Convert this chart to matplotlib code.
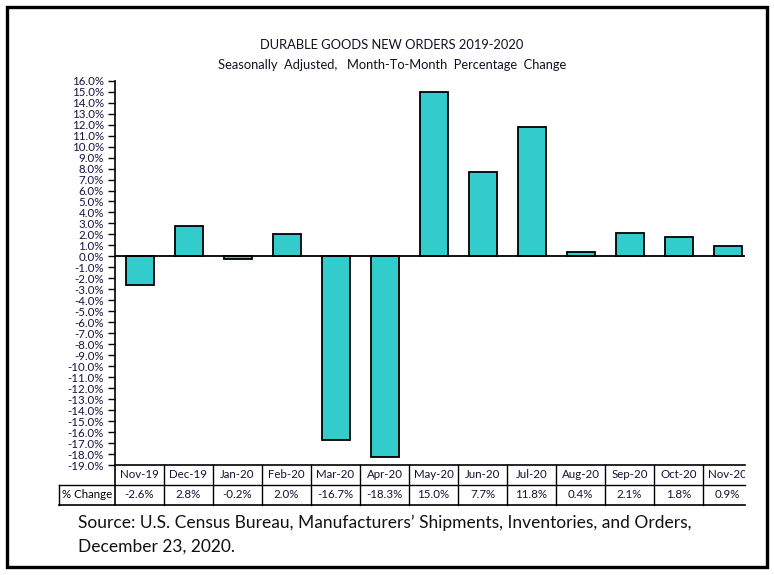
import matplotlib
matplotlib.use("Agg")
import matplotlib.pyplot as plt
from matplotlib.transforms import Bbox, blended_transform_factory
from matplotlib.patches import Rectangle
from matplotlib.lines import Line2D

months = ["Nov-19", "Dec-19", "Jan-20", "Feb-20", "Mar-20", "Apr-20", "May-20",
          "Jun-20", "Jul-20", "Aug-20", "Sep-20", "Oct-20", "Nov-20"]
pct_change = [-2.6, 2.8, -0.2, 2.0, -16.7, -18.3, 15.0, 7.7, 11.8, 0.4, 2.1, 1.8, 0.9]
y_ticks = list(range(-19, 17))

plt.rcParams['font.family'] = ['Lato', 'DejaVu Sans']
W, H = 774, 575
fig = plt.figure(figsize=(W / 100, H / 100), dpi=100)

def fx(px):
    return px / W

def fy(py):
    return 1 - py / H

ax_left, ax_right, ax_top, ax_bot = 115, 745, 80.7, 465
ax = fig.add_axes([fx(ax_left), fy(ax_bot), fx(ax_right - ax_left), fy(ax_top) - fy(ax_bot)])

col_w = 49.0
x_max = -0.5 + (ax_right - ax_left) / col_w
n = len(months)
x = list(range(n))
ax.bar(x, pct_change, width=28 / col_w, color="#33CCCC", edgecolor="black", linewidth=1.3, zorder=3)
ax.axhline(0, color="black", linewidth=1.3, zorder=4)
ax.set_xlim(-0.5, x_max)
ax.set_ylim(-19, 16)
ax.set_yticks(y_ticks)
ax.set_yticklabels([f"{v:.1f}%" for v in y_ticks], fontsize=8.3, color="#1a1040")
ax.tick_params(axis='y', direction='out', length=5, width=1, pad=3)
ax.set_xticks([])
for s in ["top", "right"]:
    ax.spines[s].set_visible(False)
ax.spines["left"].set_linewidth(1.2)
ax.spines["bottom"].set_linewidth(1.2)

# titles
fig.text(fx(392), fy(45), "DURABLE GOODS NEW ORDERS 2019-2020", ha="center", va="center",
         fontsize=9.3, color="#111122")
fig.text(fx(392), fy(65), "Seasonally  Adjusted,   Month-To-Month  Percentage  Change", ha="center",
         va="center", fontsize=9.3, color="#111122")

# data table
clip = Bbox([[0, 0], [ax_right, H]])
trans = blended_transform_factory(ax.transData, fig.transFigure)
row1_top, row1_bot, row2_bot = 465, 485, 505
tfs = 8.3
for i, (m, v) in enumerate(zip(months, pct_change)):
    t1 = fig.text(0, 0, m, transform=trans, fontsize=tfs, ha="center", va="center", color="#111133")
    t1.set_position((i, fy((row1_top + row1_bot) / 2)))
    t1.set_clip_box(clip)
    t1.set_clip_on(True)
    t2 = fig.text(0, 0, f"{v:.1f}%", transform=trans, fontsize=tfs, ha="center", va="center", color="#111133")
    t2.set_position((i, fy((row1_bot + row2_bot) / 2)))
    t2.set_clip_box(clip)
    t2.set_clip_on(True)
    xb = ax_left + (i + 1) * col_w
    if xb < ax_right:
        fig.add_artist(Line2D([fx(xb), fx(xb)], [fy(row1_top), fy(row2_bot)], color="black", lw=1.0))

fig.text(fx(87), fy((row1_bot + row2_bot) / 2), "% Change", ha="center", va="center", fontsize=tfs,
         color="black")
fig.add_artist(Line2D([fx(ax_left), fx(ax_left)], [fy(row1_top), fy(row2_bot)], color="black", lw=1.2))
fig.add_artist(Line2D([fx(59), fx(59)], [fy(row1_bot), fy(row2_bot)], color="black", lw=1.0))
fig.add_artist(Line2D([fx(59), fx(ax_right)], [fy(row1_bot), fy(row1_bot)], color="black", lw=1.0))
fig.add_artist(Line2D([fx(59), fx(ax_right)], [fy(row2_bot), fy(row2_bot)], color="black", lw=1.2))

# source
fig.text(fx(78), fy(523), "Source: U.S. Census Bureau, Manufacturers\u2019 Shipments, Inventories, and Orders,",
         ha="left", va="center", fontsize=12.5, color="#111111")
fig.text(fx(78), fy(547), "December 23, 2020.", ha="left", va="center", fontsize=12.5, color="#111111")

# outer border
fig.add_artist(Rectangle((fx(7), fy(567)), fx(760), fy(7) - fy(567), fill=False, edgecolor="black",
                         lw=2.4, transform=fig.transFigure))

fig.savefig("out.png", dpi=100)
